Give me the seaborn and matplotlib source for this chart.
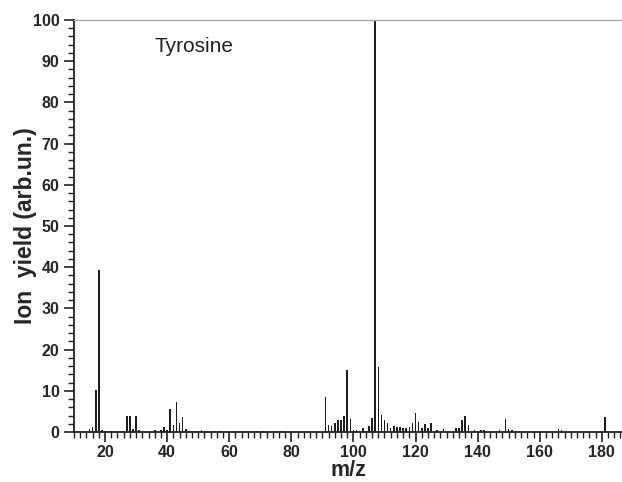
import numpy as np
import pandas as pd
import matplotlib
matplotlib.use("Agg")
import matplotlib.pyplot as plt
import seaborn as sns
from matplotlib.ticker import MultipleLocator

# --- Data ---
mz = [12, 13, 14, 15, 16, 17, 18, 19, 20, 22, 24, 26, 27, 28, 29, 30, 31, 32,
      36, 38, 39, 40, 41, 42, 43, 44, 45, 46, 48, 50, 51, 53, 55, 57, 63, 65,
      67, 69, 71, 74, 77,
      91, 92, 93, 94, 95, 96, 97, 98, 99, 100, 101, 102, 103, 104, 105, 106,
      107, 108, 109, 110, 111, 112, 113, 114, 115, 116, 117, 118, 119, 120,
      121, 122, 123, 124, 125, 127, 129, 133, 134, 135, 136, 137, 139, 141,
      142, 147, 149, 150, 151, 166, 167, 181]
ion_yield = [0.2, 0.2, 0.3, 0.8, 1.2, 10.2, 39.3, 0.5, 0.2, 0.2, 0.2, 0.3, 4.0,
             4.0, 0.7, 3.8, 0.4, 0.2, 0.4, 0.4, 1.3, 0.5, 5.5, 1.7, 7.4, 2.3,
             3.6, 0.8, 0.2, 0.3, 0.4, 0.3, 0.2, 0.2, 0.3, 0.2, 0.2, 0.2, 0.3,
             0.2, 0.2,
             8.6, 1.7, 1.4, 2.2, 2.8, 2.8, 3.9, 15.0, 3.2, 0.6, 0.6, 0.2, 0.9,
             0.2, 1.4, 3.3, 100.0, 15.9, 4.2, 2.9, 2.2, 1.0, 1.4, 1.1, 1.1,
             1.0, 1.0, 1.2, 2.3, 4.5, 2.5, 1.0, 2.0, 1.0, 2.2, 0.6, 0.7, 1.0,
             1.0, 2.8, 3.8, 1.6, 0.6, 0.6, 0.6, 0.6, 3.2, 0.8, 0.6, 0.7, 0.6,
             3.7]

x_ticks = [20, 40, 60, 80, 100, 120, 140, 160, 180]
y_ticks = [0, 10, 20, 30, 40, 50, 60, 70, 80, 90, 100]

df = pd.DataFrame({"mz": mz, "yield": ion_yield})

sns.set_style("ticks")
plt.rcParams["font.family"] = ["Liberation Sans", "DejaVu Sans"]

fig = plt.figure(figsize=(6.22, 4.82), dpi=100)
ax = fig.add_axes([0.119, 0.1037, 0.881, 0.8548])

sns.barplot(data=df, x="mz", y="yield", native_scale=True, width=0.5,
            color="#1e1e1e", linewidth=0, errorbar=None, ax=ax)

ax.set_xlim(10, 186.5)
ax.set_ylim(0, 100)
ax.set_xticks(x_ticks)
ax.set_yticks(y_ticks)
ax.xaxis.set_minor_locator(MultipleLocator(2))
ax.yaxis.set_minor_locator(MultipleLocator(2))
ax.tick_params(axis="both", which="major", direction="out", length=7,
               width=1.2, color="#222222", labelsize=11.5, pad=2.5)
ax.tick_params(axis="y", which="major", pad=3.5)
ax.tick_params(axis="both", which="minor", direction="out", length=4,
               width=1.0, color="#222222")
for lab in ax.get_xticklabels() + ax.get_yticklabels():
    lab.set_fontweight("bold")

ax.spines["right"].set_visible(False)
ax.spines["top"].set_color("#aaaaaa")
ax.spines["top"].set_linewidth(1.0)
ax.spines["left"].set_linewidth(1.3)
ax.spines["bottom"].set_linewidth(1.3)
ax.spines["left"].set_color("#222222")
ax.spines["bottom"].set_color("#222222")

ax.set_xlabel("m/z", fontsize=15.5, fontweight="bold", va="bottom")
ax.set_ylabel("Ion  yield (arb.un.)", fontsize=16.5, fontweight="bold", va="center")
ax.xaxis.set_label_coords(0.5, -0.118)
ax.yaxis.set_label_coords(-0.0894, 0.5)

ax.text(36, 93.5, "Tyrosine", fontsize=15, ha="left", va="center", color="#222222")

fig.savefig("out.png", dpi=100)
